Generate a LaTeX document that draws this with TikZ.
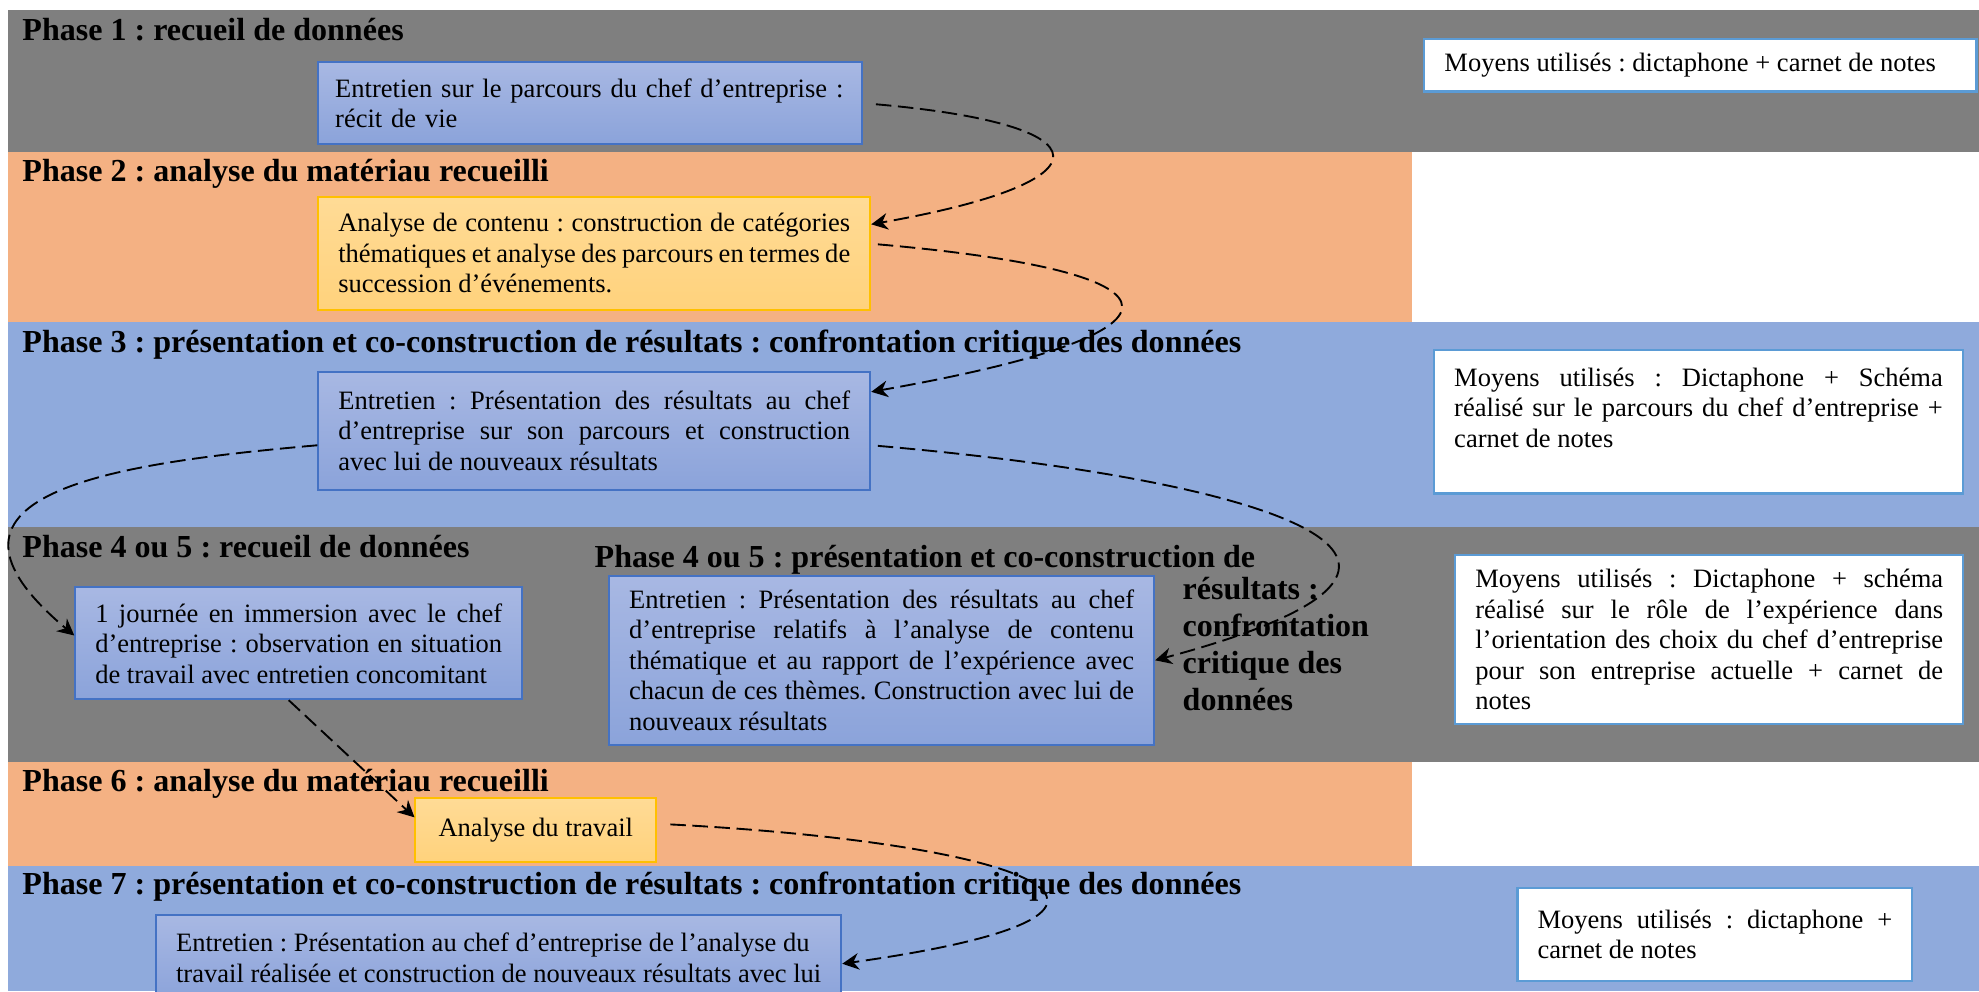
\documentclass[tikz,border=0pt]{standalone}
\usepackage{fontspec}
\setmainfont{Liberation Serif}
\usetikzlibrary{arrows.meta}
\frenchspacing
\definecolor{gris}{HTML}{7F7F7F}
\definecolor{saumon}{HTML}{F4B183}
\definecolor{bleufond}{HTML}{8FAADC}
\definecolor{bleuhaut}{HTML}{A8B8E3}
\definecolor{bleubas}{HTML}{8BA3DA}
\definecolor{bleubord}{HTML}{4472C4}
\definecolor{jaunehaut}{HTML}{FFDB96}
\definecolor{jaunebas}{HTML}{FFD27C}
\definecolor{jaunebord}{HTML}{FFC000}
\definecolor{moyensbord}{HTML}{5B9BD5}
\tikzstyle{phase} = [
  anchor=base west,
  inner sep=0pt,
  font=\fontsize{14.5}{16.6}\selectfont\bfseries
]
\tikzstyle{entretien} = [
  rectangle,
  draw=bleubord,
  line width=0.8pt,
  top color=bleuhaut,
  bottom color=bleubas,
  inner xsep=0.32cm,
  inner ysep=2pt,
  align=justify
]
\tikzstyle{analyse} = [
  rectangle,
  draw=jaunebord,
  line width=0.8pt,
  top color=jaunehaut,
  bottom color=jaunebas,
  inner xsep=0.32cm,
  inner ysep=2pt,
  align=justify
]
\tikzstyle{moyens} = [
  rectangle,
  draw=moyensbord,
  line width=1pt,
  fill=white,
  inner xsep=0.32cm,
  inner ysep=2pt,
  align=justify
]
\tikzstyle{fleche} = [
  line width=0.85pt,
  dash pattern=on 7pt off 3pt,
  ->,
  >={Stealth[length=7.5pt,width=7.5pt]},
  black,
]

\begin{document}
\begin{tikzpicture}[font=\fontsize{12}{13.8}\selectfont]
    \useasboundingbox (0,0) rectangle (31.47,15.76);
    \fill[white] (0,0) rectangle (31.47,15.76);
    % bandes des phases
    \fill[gris] (0.13,13.34) rectangle (31.47,15.60);
    \fill[saumon] (0.13,10.64) rectangle (22.46,13.34);
    \fill[bleufond] (0.13,7.38) rectangle (31.47,10.64);
    \fill[gris] (0.13,3.64) rectangle (31.47,7.38);
    \fill[saumon] (0.13,1.99) rectangle (22.46,3.64);
    \fill[bleufond] (0.13,0) rectangle (31.47,1.99);

    \node[phase] (t1) at (0.35,15.12) {Phase 1 : recueil de données};
    \node[phase] (t2) at (0.35,12.87) {Phase 2 : analyse du matériau recueilli};
    \node[phase] (t3) at (0.35,10.16) {Phase 3 : présentation et co-construction de résultats : confrontation critique des données};
    \node[phase] (t4) at (0.35,6.90) {Phase 4 ou 5 : recueil de données};
    \node[phase] (t5) at (9.45,6.74) {Phase 4 ou 5 : présentation et co-construction de};
    \node[phase, anchor=north west, align=left] (t5b) at (18.80,6.58) {résultats :\\confrontation\\critique des\\données};
    \node[phase] (t6) at (0.35,3.17) {Phase 6 : analyse du matériau recueilli};
    \node[phase] (t7) at (0.35,1.53) {Phase 7 : présentation et co-construction de résultats : confrontation critique des données};

    \node[entretien, align=left, text width=8.10cm, inner xsep=0.275cm, minimum height=1.30cm] (b1) at (9.38,14.12) {Entretien sur le parcours du chef d’entreprise :\\ récit de vie};
    \node[analyse, text width=8.14cm, minimum height=1.80cm] (b2) at (9.45,11.73) {Analyse de contenu : construction de catégories\linebreak thématiques et analyse des parcours en termes de\linebreak succession d’événements.};
    \node[entretien, text width=8.14cm, minimum height=1.88cm] (b3) at (9.45,8.91) {Entretien : Présentation des résultats au chef\linebreak d’entreprise sur son parcours et construction\linebreak avec lui de nouveaux résultats};
    \node[entretien, text width=6.47cm, minimum height=1.78cm] (b4) at (4.75,5.53) {1 journée en immersion avec le chef\linebreak d’entreprise : observation en situation\linebreak de travail avec entretien concomitant};
    \node[entretien, text width=8.03cm, minimum height=2.69cm] (b5) at (14.02,5.26) {Entretien : Présentation des résultats au chef\linebreak d’entreprise relatifs à l’analyse de contenu\linebreak thématique et au rapport de l’expérience avec\linebreak chacun de ces thèmes. Construction avec lui de\linebreak nouveaux résultats};
    \node[analyse, minimum width=3.83cm, minimum height=1.02cm] (b6) at (8.52,2.56) {Analyse du travail};
    \node[entretien, align=left, minimum width=10.83cm, minimum height=1.35cm] (b7) at (7.93,0.53) {Entretien : Présentation au chef d’entreprise de l’analyse du\\ travail réalisée et construction de nouveaux résultats avec lui};

    \node[moyens, text width=8.14cm, minimum height=0.83cm] (m1) at (27.04,14.72) {Moyens utilisés : dictaphone + carnet de notes};
    \node[moyens, text width=7.77cm, inner ysep=8pt, anchor=north] (m3) at (27.01,10.21) {Moyens utilisés : Dictaphone + Schéma\linebreak réalisé sur le parcours du chef d’entreprise +\linebreak carnet de notes\rule[-12.9pt]{0pt}{12.9pt}};
    \node[moyens, text width=7.44cm, minimum height=2.69cm] (m4) at (27.18,5.59) {Moyens utilisés : Dictaphone + schéma\linebreak réalisé sur le rôle de l’expérience dans\linebreak l’orientation des choix du chef d’entreprise\linebreak pour son entreprise actuelle + carnet de\linebreak notes};
    \node[moyens, text width=5.64cm, minimum height=1.48cm] (m7) at (27.27,0.90) {Moyens utilisés : dictaphone +\linebreak carnet de notes};

    \draw[fleche, shorten <=6pt] (b1.east) to [out=-5, in=10, looseness=5.2] (b2.6);
    \draw[fleche, shorten <=3pt] (b2.2) to [out=-5, in=10, looseness=5.8] (b3.8);
    \draw[fleche] (b3.183) to [out=185, in=140, looseness=1.8] (b4.178);
    \draw[fleche, shorten <=3pt] (b3.-3) to [out=-5, in=15, looseness=2.8] (b5.east);
    \draw[fleche] (b4.260) -- (b6.174);
    \draw[fleche, shorten <=6pt] (b6.3) to [out=-3, in=8, looseness=4.1] (b7.-1.5);
\end{tikzpicture}
\end{document}
